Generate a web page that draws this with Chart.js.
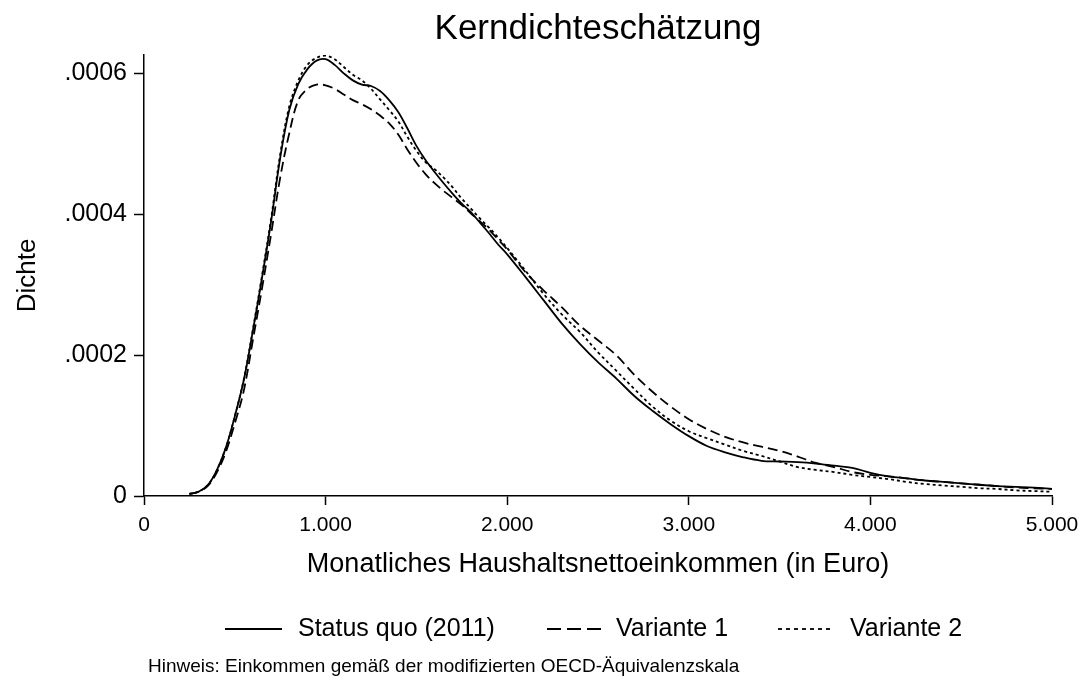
<!DOCTYPE html>
<html><head><meta charset="utf-8">
<script src="https://cdn.jsdelivr.net/npm/chart.js@4.4.1/dist/chart.umd.min.js"></script>
<style>html,body{margin:0;padding:0;background:#fff;}canvas{display:block;}</style>
</head><body>
<canvas id="c" width="1089" height="681"></canvas>
<script>
// Monthly net household income (Euro)
const income = [250,300,350,400,450,500,550,600,650,700,750,800,850,900,950,1000,1050,1100,1150,1200,1250,1300,1350,1400,1450,1500,1550,1600,1650,1700,1750,1800,1850,1900,1950,2000,2100,2200,2300,2400,2500,2600,2700,2800,2900,3000,3100,3200,3300,3400,3500,3600,3700,3800,3900,4000,4100,4200,4300,4400,4500,4600,4700,4800,4900,5000];
// Kernel density estimates
const statusQuo = [0.000003,0.000006,0.000015,0.000036,0.000068,0.000113,0.000165,0.000235,0.000310,0.000390,0.000480,0.000548,0.000585,0.000606,0.000618,0.000620,0.000612,0.000600,0.000590,0.000584,0.000582,0.000575,0.000562,0.000545,0.000522,0.000497,0.000477,0.000460,0.000444,0.000429,0.000415,0.000403,0.000388,0.000373,0.000357,0.000343,0.000311,0.000278,0.000245,0.000216,0.000190,0.000167,0.000142,0.000121,0.000102,0.000085,0.000071,0.000062,0.000055,0.000050,0.000049,0.000048,0.000046,0.000043,0.000040,0.000033,0.000028,0.000025,0.000022,0.000020,0.000018,0.000016,0.000014,0.000013,0.000012,0.000010];
const variante1 = [0.000003,0.000006,0.000014,0.000033,0.000062,0.000103,0.000150,0.000222,0.000295,0.000372,0.000452,0.000515,0.000562,0.000578,0.000584,0.000583,0.000578,0.000570,0.000562,0.000556,0.000549,0.000540,0.000529,0.000513,0.000492,0.000473,0.000457,0.000444,0.000433,0.000423,0.000413,0.000401,0.000390,0.000378,0.000364,0.000350,0.000318,0.000292,0.000268,0.000242,0.000221,0.000200,0.000172,0.000148,0.000127,0.000109,0.000095,0.000084,0.000076,0.000070,0.000064,0.000056,0.000047,0.000041,0.000034,0.000030,0.000028,0.000025,0.000022,0.000020,0.000018,0.000016,0.000014,0.000012,0.000011,0.000010];
const variante2 = [0.000003,0.000006,0.000015,0.000036,0.000068,0.000113,0.000166,0.000237,0.000313,0.000394,0.000485,0.000553,0.000590,0.000612,0.000622,0.000625,0.000620,0.000609,0.000598,0.000590,0.000578,0.000563,0.000548,0.000532,0.000510,0.000490,0.000474,0.000464,0.000452,0.000438,0.000422,0.000408,0.000394,0.000381,0.000367,0.000352,0.000320,0.000287,0.000258,0.000233,0.000204,0.000178,0.000152,0.000127,0.000107,0.000092,0.000082,0.000073,0.000064,0.000057,0.000049,0.000041,0.000037,0.000034,0.000030,0.000027,0.000024,0.000020,0.000017,0.000015,0.000013,0.000011,0.000010,0.000008,0.000007,0.000006];

const seriesNames = ['Status quo (2011)', 'Variante 1', 'Variante 2'];
const xTickValues = [0, 1000, 2000, 3000, 4000, 5000];
const xTickLabels = ['0', '1.000', '2.000', '3.000', '4.000', '5.000'];
const yTickValues = [0, 0.0002, 0.0004, 0.0006];
const yTickLabels = ['0', '.0002', '.0004', '.0006'];
const titleText = 'Kerndichteschätzung';
const xTitleText = 'Monatliches Haushaltsnettoeinkommen (in Euro)';
const yTitleText = 'Dichte';
const noteText = 'Hinweis: Einkommen gemäß der modifizierten OECD-Äquivalenzskala';

const FONT = "'Liberation Sans', Arial, sans-serif";
const dashes = [[], [10, 5], [3, 3]];
const legendDashes = [[], [14, 6], [4, 4]];
const seriesData = [statusQuo, variante1, variante2];

const textPlugin = {
  id: 'stataTexts',
  afterDraw(chart) {
    const ctx = chart.ctx;
    const area = chart.chartArea;
    ctx.save();
    ctx.strokeStyle = '#000';
    ctx.fillStyle = '#000';
    // title, centred over the plot region
    ctx.font = '35px ' + FONT;
    ctx.textAlign = 'center';
    ctx.textBaseline = 'alphabetic';
    ctx.fillText(titleText, (area.left + area.right) / 2, 39);
    // legend
    ctx.lineWidth = 1.8;
    const y = 629;
    const items = [
      { x1: 225, x2: 282, tx: 298 },
      { x1: 547, x2: 601, tx: 616 },
      { x1: 778, x2: 833, tx: 850 }
    ];
    ctx.font = '25px ' + FONT;
    ctx.textBaseline = 'middle';
    ctx.textAlign = 'left';
    items.forEach((it, i) => {
      ctx.setLineDash(legendDashes[i]);
      ctx.beginPath();
      ctx.moveTo(it.x1, y);
      ctx.lineTo(it.x2, y);
      ctx.stroke();
      ctx.fillText(seriesNames[i], it.tx, y);
    });
    ctx.setLineDash([]);
    // note
    ctx.font = '19px ' + FONT;
    ctx.fillText(noteText, 148, 667);
    ctx.restore();
  }
};

new Chart(document.getElementById('c'), {
  type: 'line',
  data: {
    datasets: seriesData.map((arr, i) => ({
      label: seriesNames[i],
      data: income.map((x, j) => ({ x: x, y: arr[j] })),
      borderColor: '#000',
      borderWidth: 1.8,
      borderDash: dashes[i],
      pointRadius: 0,
      tension: 0.35,
      fill: false
    }))
  },
  options: {
    responsive: false,
    animation: false,
    layout: { padding: { left: 0, right: 37, top: 55, bottom: 0 } },
    plugins: {
      legend: { display: false },
      tooltip: { enabled: false },
      title: { display: false }
    },
    scales: {
      x: {
        type: 'linear',
        min: 0,
        max: 5000,
        afterFit(scale) { scale.height = 185; },
        afterBuildTicks(scale) { scale.ticks = xTickValues.map(v => ({ value: v })); },
        ticks: {
          color: '#000',
          font: { family: FONT, size: 21 },
          padding: 8,
          maxRotation: 0,
          autoSkip: false,
          callback: (v) => xTickLabels[xTickValues.indexOf(v)]
        },
        grid: { drawOnChartArea: false, tickLength: 9, tickColor: '#000', tickWidth: 1.5 },
        border: { display: true, color: '#000', width: 1.5 },
        title: {
          display: true,
          text: xTitleText,
          color: '#000',
          font: { family: FONT, size: 27 },
          padding: { top: 0, bottom: 100 }
        }
      },
      y: {
        type: 'linear',
        min: 0,
        max: 0.000626,
        afterFit(scale) { scale.width = 144; },
        afterBuildTicks(scale) { scale.ticks = yTickValues.map(v => ({ value: v })); },
        ticks: {
          color: '#000',
          font: { family: FONT, size: 25 },
          padding: 7,
          autoSkip: false,
          callback: (v) => yTickLabels[yTickValues.indexOf(v)]
        },
        grid: { drawOnChartArea: false, tickLength: 10, tickColor: '#000', tickWidth: 1.5 },
        border: { display: true, color: '#000', width: 1.5 },
        title: {
          display: true,
          text: yTitleText,
          color: '#000',
          font: { family: FONT, size: 26 },
          padding: { top: 12, bottom: 0 }
        }
      }
    }
  },
  plugins: [textPlugin]
});
</script>
</body></html>
